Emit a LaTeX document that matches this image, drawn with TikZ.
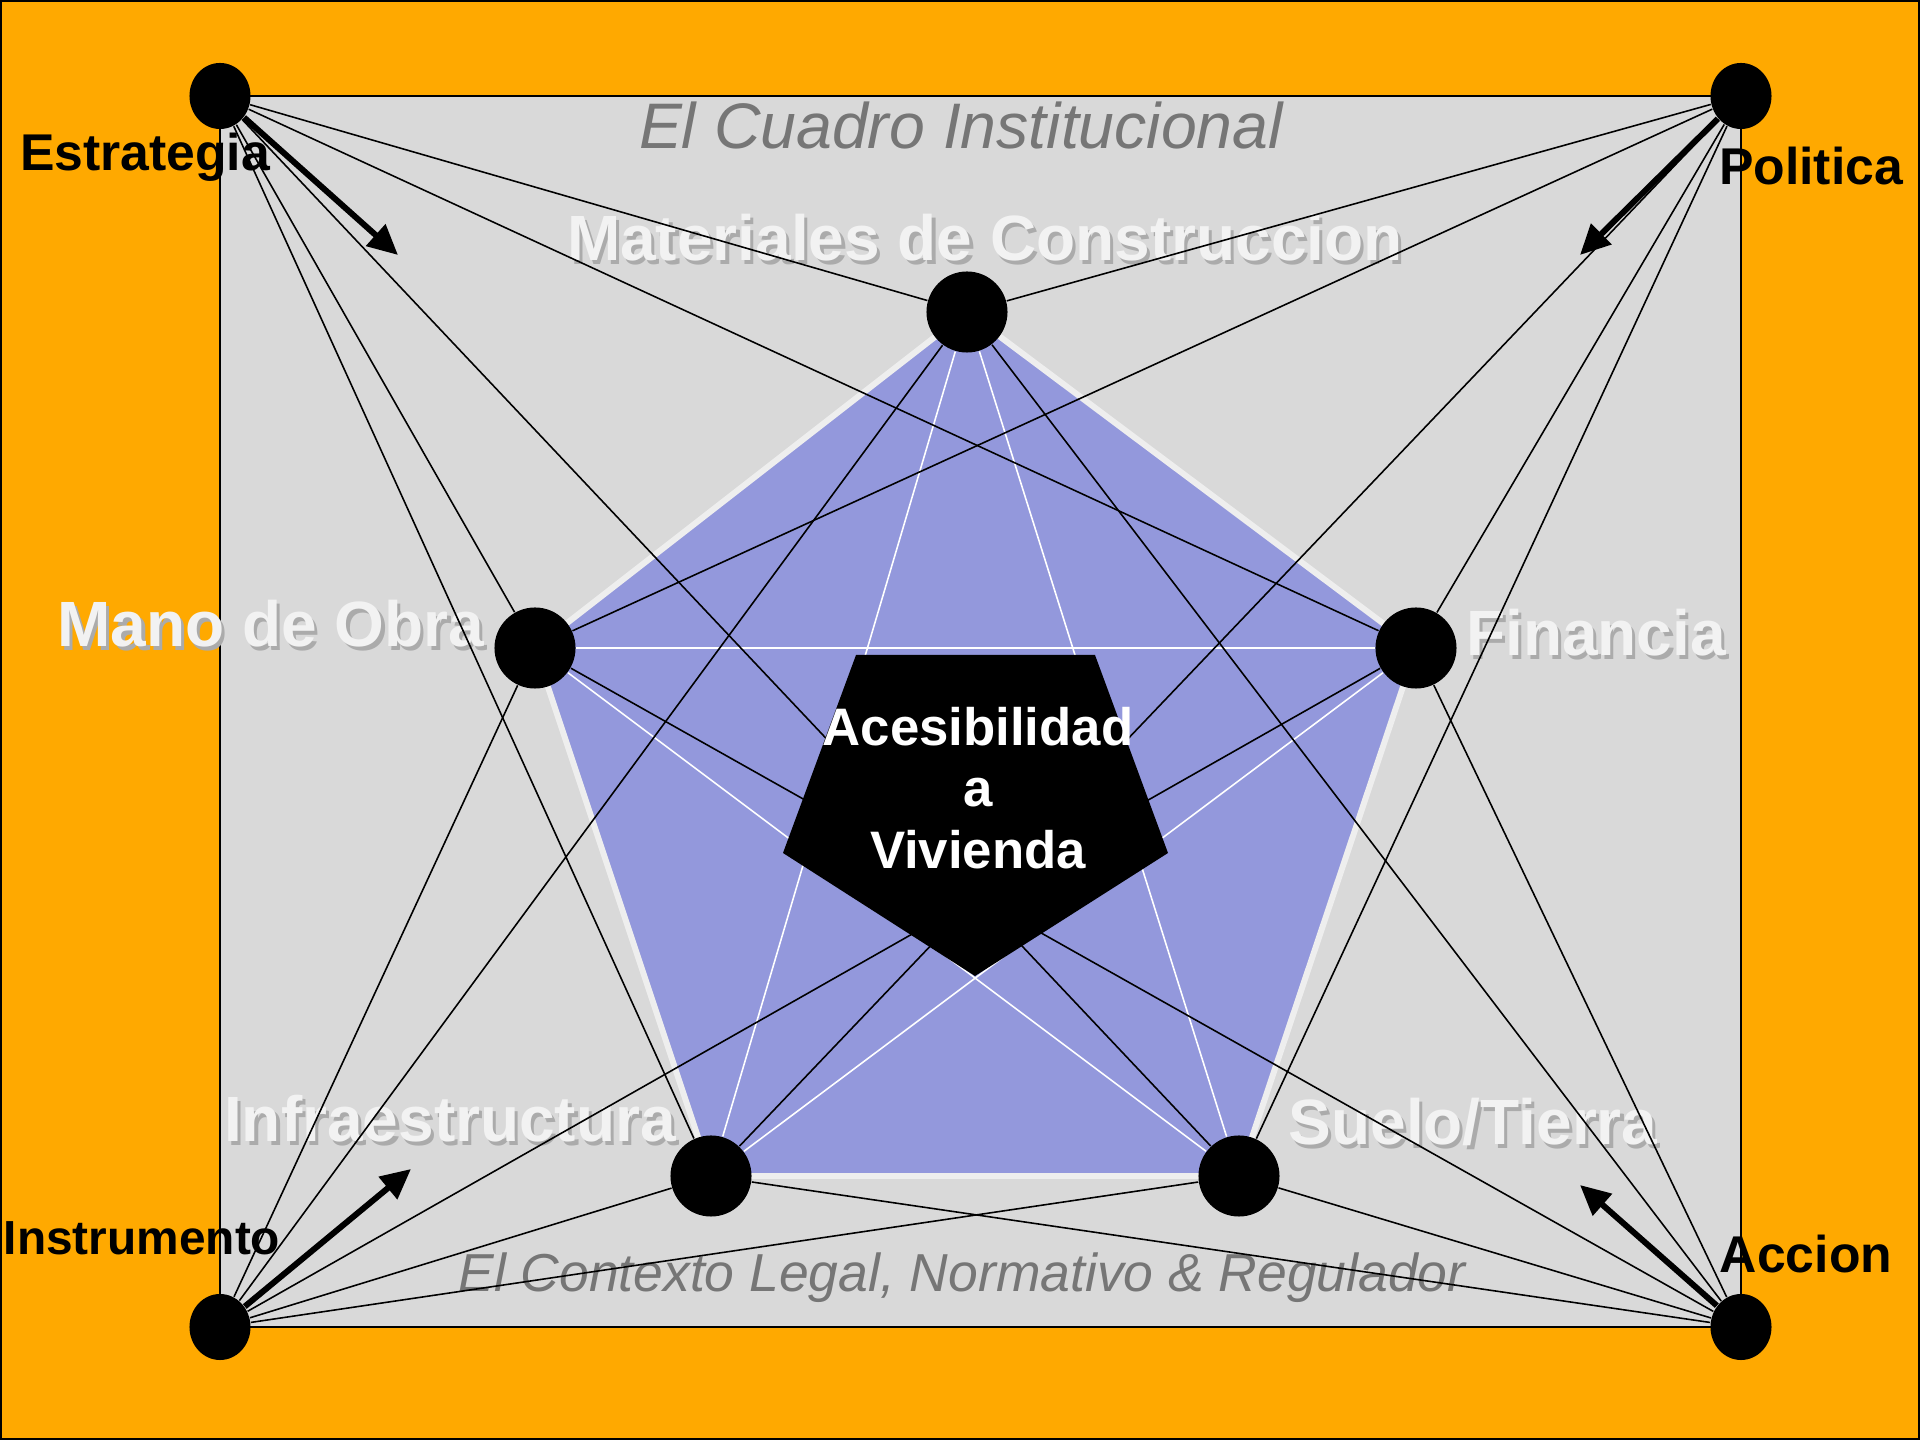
\documentclass[tikz,border=0pt]{standalone}
\usepackage{fontspec}
\setmainfont{Liberation Sans}
\usetikzlibrary{shapes.geometric,arrows.meta}
\definecolor{bgorange}{HTML}{FFA900}
\definecolor{panelgray}{HTML}{D9D9D9}
\definecolor{pentablue}{HTML}{9398DC}
\definecolor{rimwhite}{HTML}{EEEEEE}
\definecolor{labelwhite}{HTML}{F2F2F2}
\definecolor{framegray}{HTML}{767676}
\newcommand{\shadowed}[1]{\rlap{\hspace{0.9pt}\raisebox{-0.9pt}{\textcolor{black!33}{#1}}}#1}
\pgfdeclarelayer{bg}
\pgfdeclarelayer{links}
\pgfsetlayers{bg,links,main}
\tikzstyle{hub} = [ellipse,minimum width=0.61cm,minimum height=0.66cm,inner sep=0pt,fill=black]
\tikzstyle{factor} = [circle,minimum size=0.81cm,inner sep=0pt,fill=black]
\tikzstyle{hublabel} = [anchor=base,inner sep=0pt,text=black,font=\fontsize{14.7}{17}\selectfont\bfseries]
\tikzstyle{factorlabel} = [anchor=base,inner sep=0pt,text=labelwhite,font=\fontsize{18.2}{21}\selectfont\bfseries]
\tikzstyle{framelabel} = [anchor=base,inner sep=0pt,text=framegray,font=\itshape]
\tikzstyle{link} = [draw=black,line width=0.45pt]
\tikzstyle{star} = [draw=white,line width=0.45pt]
\tikzstyle{push} = [line width=1.7pt,-{Triangle[length=0.3cm,width=0.28cm]}]

\begin{document}
\begin{tikzpicture}[x=0.01cm,y=-0.01cm]
    \useasboundingbox (0,0) rectangle (1920,1440);

    % Corners
    \node[hub] (est) at (220,96) {};
    \node[hub] (pol) at (1741,96) {};
    \node[hub] (ins) at (220,1327) {};
    \node[hub] (acc) at (1741,1327) {};

    % Factors
    \node[factor] (mat) at (967,312) {};
    \node[factor] (mano) at (535,648) {};
    \node[factor] (fin) at (1416,648) {};
    \node[factor] (infra) at (711,1176) {};
    \node[factor] (suelo) at (1239,1176) {};

    \begin{pgfonlayer}{bg}
    % Frame and panel
    \fill[bgorange] (0,0) rectangle (1920,1440);
    \draw[black,line width=1.2pt] (0,0) rectangle (1920,1440);
    \draw[black,line width=0.8pt,fill=panelgray] (est.center) rectangle (acc.center);
    \node[framelabel,font=\fontsize{18.3}{21}\selectfont\itshape] (cuadro) at (961,149) {El Cuadro Institucional};
    \node[framelabel,font=\fontsize{15.2}{18}\selectfont\itshape] (contexto) at (962,1292) {El Contexto Legal, Normativo \& Regulador};

    % Pentagon
    \draw[fill=pentablue,draw=rimwhite,line width=1.7pt] (mat.center) -- (fin.center) -- (suelo.center) -- (infra.center) -- (mano.center) -- cycle;
    \draw[star] (mat) -- (infra);
    \draw[star] (mat) -- (suelo);
    \draw[star] (mano) -- (fin);
    \draw[star] (mano) -- (suelo);
    \draw[star] (fin) -- (infra);

    % Labels
    \node[factorlabel] (matlabel) at (985,261) {\shadowed{Materiales de Construccion}};
    \node[factorlabel] (manolabel) at (271,647) {\shadowed{Mano de Obra}};
    \node[factorlabel] (finlabel) at (1596,656) {\shadowed{Financia}};
    \node[factorlabel] (infralabel) at (450,1142) {\shadowed{Infraestructura}};
    \node[factorlabel] (suelolabel) at (1473,1145) {\shadowed{Suelo/Tierra}};
    \node[hublabel] (estlabel) at (145,171) {Estrategia};
    \node[hublabel] (pollabel) at (1811,185) {Politica};
    \node[hublabel,font=\fontsize{13.6}{16}\selectfont\bfseries] (inslabel) at (142,1255) {Instrumento};
    \node[hublabel] (acclabel) at (1806,1273) {Accion};
    \end{pgfonlayer}

    \begin{pgfonlayer}{links}
    % links
    \draw[link] (est) -- (mat);
    \draw[link] (est) -- (mano);
    \draw[link] (est) -- (fin);
    \draw[link] (est) -- (infra);
    \draw[link] (est) -- (suelo);
    \draw[link] (pol) -- (mat);
    \draw[link] (pol) -- (mano);
    \draw[link] (pol) -- (fin);
    \draw[link] (pol) -- (infra);
    \draw[link] (pol) -- (suelo);
    \draw[link] (ins) -- (mat);
    \draw[link] (ins) -- (mano);
    \draw[link] (ins) -- (fin);
    \draw[link] (ins) -- (infra);
    \draw[link] (ins) -- (suelo);
    \draw[link] (acc) -- (mat);
    \draw[link] (acc) -- (mano);
    \draw[link] (acc) -- (fin);
    \draw[link] (acc) -- (infra);
    \draw[link] (acc) -- (suelo);
    \end{pgfonlayer}

    % Centre
    \fill[black] (856,655) -- (1095,655) -- (1168,853) -- (975,976) -- (783,853) -- cycle;
    \node[align=center,text=white,font=\fontsize{15}{17.4}\selectfont\bfseries] (core) at (978,788) {Acesibilidad\\a\\Vivienda};

    % arrow
    \coordinate (esttip) at (398,255);
    \coordinate (poltip) at (1580,255);
    \coordinate (instip) at (411,1169);
    \coordinate (acctip) at (1580,1185);
    \draw[push] (est) -- (esttip);
    \draw[push] (pol) -- (poltip);
    \draw[push] (ins) -- (instip);
    \draw[push] (acc) -- (acctip);
\end{tikzpicture}
\end{document}
